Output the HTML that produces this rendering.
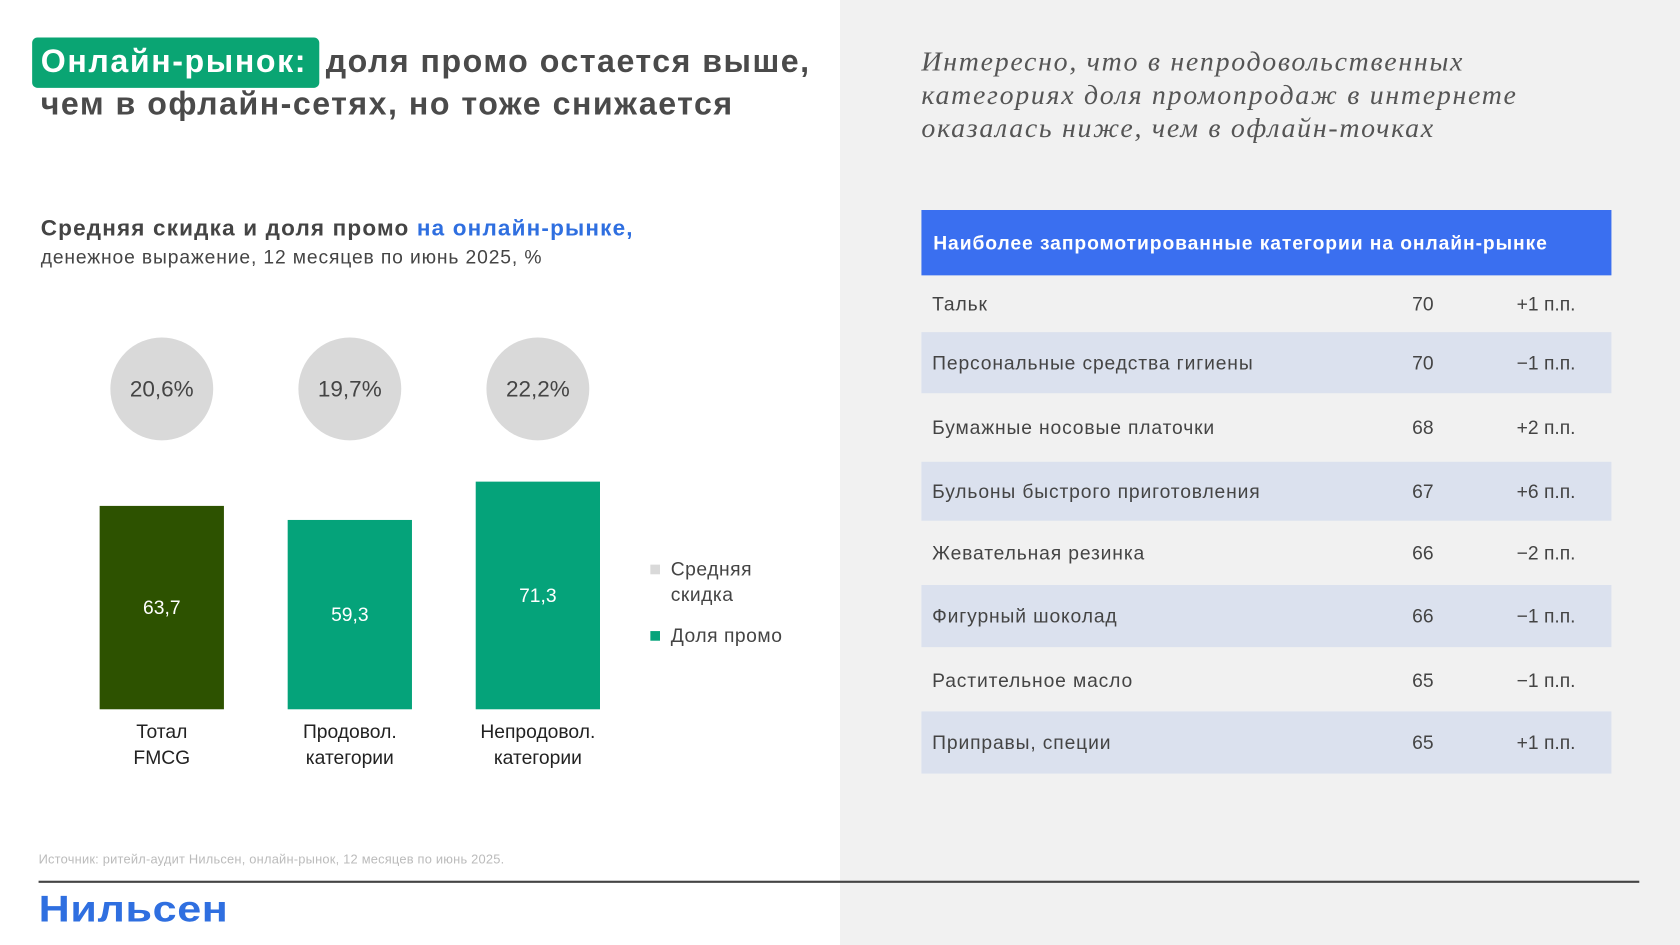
<!DOCTYPE html>
<html><head><meta charset="utf-8">
<style>
*{margin:0;padding:0;box-sizing:border-box}
html,body{width:1680px;height:945px;overflow:hidden;background:#fff}
#s{position:absolute;left:0;top:0;width:1568px;height:882px;transform:scale(1.071429);transform-origin:0 0;font-family:"Liberation Sans",sans-serif;color:#333}
.a{position:absolute;white-space:nowrap}
</style></head><body>
<div id="s">
<div class="a" style="left:784px;top:0;width:784px;height:882px;background:#f1f1f1"></div>
<div class="a" style="left:30px;top:35px;width:268px;height:47px;background:#0aa573;border-radius:5px"></div>
<div class="a" style="left:38px;top:38px;font-size:30px;font-weight:bold;color:#fff;line-height:40px;letter-spacing:1.5px">Онлайн-рынок:</div>
<div class="a" style="left:304px;top:38px;font-size:30px;font-weight:bold;color:#4a4a4a;line-height:40px;letter-spacing:1.4px">доля промо остается выше,</div>
<div class="a" style="left:38px;top:78px;font-size:30px;font-weight:bold;color:#4a4a4a;line-height:40px;letter-spacing:1.4px">чем в офлайн-сетях, но тоже снижается</div>
<div class="a" style="left:38px;top:202px;font-size:21px;font-weight:bold;color:#444;letter-spacing:1.1px">Средняя скидка и доля промо <span style="color:#2f6fe0">на онлайн-рынке,</span></div>
<div class="a" style="left:38px;top:230px;font-size:18px;color:#444;letter-spacing:0.8px">денежное выражение, 12 месяцев по июнь 2025, %</div>
<svg class="a" style="left:0;top:0" width="784" height="780" id="chart"></svg>
<div class="a" style="left:36px;top:795px;font-size:12px;color:#bbb;letter-spacing:0.2px">Источник: ритейл-аудит Нильсен, онлайн-рынок, 12 месяцев по июнь 2025.</div>
<div class="a" style="left:36px;top:822px;width:1494px;height:2px;background:#444"></div>
<div class="a" style="left:36px;top:829px;font-size:35px;font-weight:bold;color:#2f6fe0;transform:scaleX(1.15);transform-origin:0 0;letter-spacing:0.5px">Нильсен</div>
<div class="a" style="left:860px;top:42px;font-family:'Liberation Serif',serif;font-style:italic;font-size:26px;line-height:31px;color:#555;letter-spacing:1.6px">Интересно, что в непродовольственных<br>категориях доля промопродаж в интернете<br>оказалась ниже, чем в офлайн-точках</div>
<div class="a" style="left:860px;top:196px;width:644px;height:61px;background:#3a6ff0"></div>
<div class="a" style="left:871px;top:217px;font-size:18px;font-weight:bold;color:#fff;letter-spacing:0.85px">Наиболее запромотированные категории на онлайн-рынке</div>
<div id="tbl"></div>
</div>
<script>
const cats=["Тотал FMCG","Продовол. категории","Непродовол. категории"];
const promo=[63.7,59.3,71.3];
const disc=["20,6%","19,7%","22,2%"];
const colors=["#2d5200","#05a37a","#05a37a"];
const svg=document.getElementById('chart');const NS="http://www.w3.org/2000/svg";
const base=662,k=2.98;const y=v=>base-v*k;const x=i=>93+i*175.5;
function el(t,a,txt){const e=document.createElementNS(NS,t);for(const n in a)e.setAttribute(n,a[n]);if(txt!=null)e.textContent=txt;svg.appendChild(e);return e;}
cats.forEach((c,i)=>{
 const cx=x(i)+58;
 const ci=el('circle',{cx:cx,cy:363,r:48,fill:'#d9d9d9'});
 
 const ct=el('text',{x:cx,y:370,'text-anchor':'middle','font-size':21,fill:'#444'},disc[i]);
 
 const r=el('rect',{x:x(i),y:y(promo[i]),width:116,height:base-y(promo[i]),fill:colors[i]});
 
 const v=el('text',{x:cx,y:(y(promo[i])+base)/2+6,'text-anchor':'middle','font-size':18,fill:'#fff'},promo[i].toFixed(1).replace('.',','));
 
 const p=c.split(' ');
 p.forEach((w,j)=>{const t=el('text',{x:cx,y:689+j*24,'text-anchor':'middle','font-size':18,fill:'#222'},w);
 });
});
[[527,'#d9d9d9',['Средняя','скидка']],[589,'#05a37a',['Доля промо']]].forEach(([yy,col,lines])=>{
 const s=el('rect',{x:607,y:yy,width:9,height:9,fill:col});
 lines.forEach((l,j)=>{const t=el('text',{x:626,y:yy+10+j*24,'font-size':18,fill:'#444','letter-spacing':0.5},l);});
});
const rows=["Тальк","Персональные средства гигиены","Бумажные носовые платочки","Бульоны быстрого приготовления","Жевательная резинка","Фигурный шоколад","Растительное масло","Приправы, специи"];
const vals=[70,70,68,67,66,66,65,65];
const chg=["+1 п.п.","−1 п.п.","+2 п.п.","+6 п.п.","−2 п.п.","−1 п.п.","−1 п.п.","+1 п.п."];
const tops=[258,310,368,431,487,546,605,664],hs=[51,57,62,55,58,58,59,58];
const tb=document.getElementById('tbl');
rows.forEach((r,i)=>{
 const d=document.createElement('div');d.className='a';
 d.style.cssText=`left:860px;top:${tops[i]}px;width:644px;height:${hs[i]}px;background:${i%2?'#dbe1ee':'transparent'};font-size:18px;color:#444`;
 
 
 d.innerHTML=`<span class="a" style="left:10px;top:${hs[i]/2-10}px;letter-spacing:0.8px">${r}</span><span class="a" style="left:448px;width:40px;text-align:center;top:${hs[i]/2-10}px">${vals[i]}</span><span class="a" style="left:540px;width:86px;text-align:center;top:${hs[i]/2-10}px">${chg[i]}</span>`;
 tb.parentNode.appendChild(d);
});
</script>
</body></html>
